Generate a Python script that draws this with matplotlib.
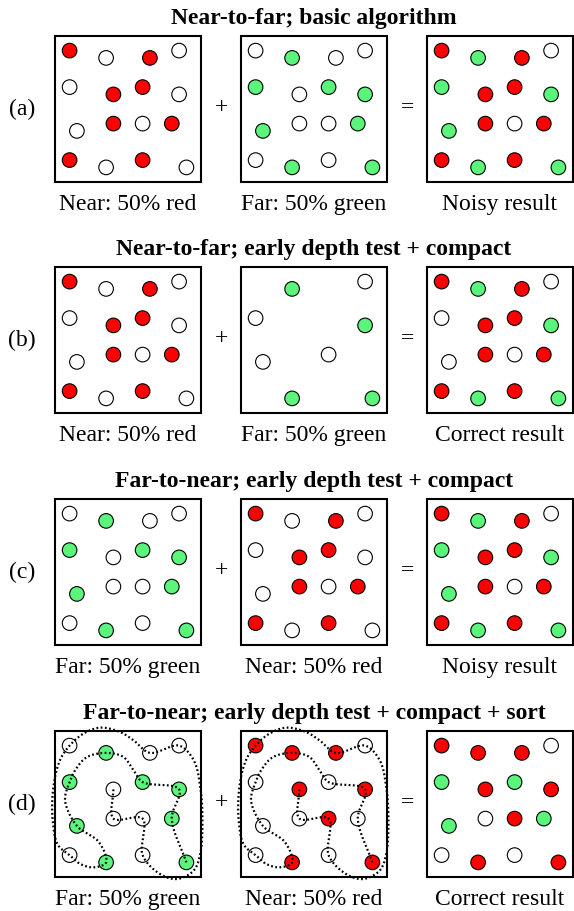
import numpy as np
import matplotlib
matplotlib.use('Agg')
import matplotlib.pyplot as plt
from matplotlib.patches import Rectangle, Circle

plt.rcParams['font.family'] = ['Liberation Serif', 'DejaVu Serif']

# sample positions inside a box (fraction of box size, y downwards), row by row
pos_x = [0.10, 0.35, 0.65, 0.85,  0.10, 0.40, 0.60, 0.85,  0.15, 0.40, 0.60, 0.80,  0.10, 0.35, 0.60, 0.90]
pos_y = [0.10, 0.15, 0.15, 0.10,  0.35, 0.40, 0.35, 0.40,  0.65, 0.60, 0.60, 0.60,  0.85, 0.90, 0.85, 0.90]

# R = red, G = green, W = white, '-' = no sample
near_basic  = list('RWRW' 'WRRW' 'WRWR' 'RWRW')
far_basic   = list('WGWW' 'GWGG' 'GWWG' 'WGWG')
noisy       = list('RGRW' 'GRRG' 'GRWR' 'RGRG')
far_compact = list('-G-W' 'W--G' 'W-W-' '-G-G')
correct_b   = list('RGRW' 'WRRG' 'WRWR' 'RGRG')
near_sorted = list('RRRW' 'WRWR' 'WWRW' 'WRWR')
correct_d   = list('RRRW' 'GRGR' 'GWRG' 'WRWR')

# traversal order of the sorted samples (ints = sample index, tuples = bends)
sort_path = [5, 9, 10, 14, (0.72, 0.98), (0.835, 1.014), (0.95, 0.956), (0.995, 0.84),
             (1.01, 0.61), (0.995, 0.384), (0.95, 0.20), 3, 2, (0.538, 0.064), (0.446, 0.007),
             (0.309, -0.023), (0.195, 0.018), 0, (0.034, 0.20), (-0.011, 0.384), (-0.016, 0.61),
             (0.02, 0.78), 12, (0.172, 0.91), (0.263, 0.934), 13, (0.30, 0.76), 8,
             (0.069, 0.476), 4, (0.137, 0.27), (0.217, 0.18), 1, (0.469, 0.178), (0.538, 0.27),
             6, 7, 11, 15]

titles = ['Near-to-far; basic algorithm',
          'Near-to-far; early depth test + compact',
          'Far-to-near; early depth test + compact',
          'Far-to-near; early depth test + compact + sort']
row_tags = ['(a)', '(b)', '(c)', '(d)']
panels = [[near_basic, far_basic, noisy],
          [near_basic, far_compact, correct_b],
          [far_basic, near_basic, noisy],
          [far_basic, near_sorted, correct_d]]
captions = [['Near: 50% red', 'Far: 50% green', 'Noisy result'],
            ['Near: 50% red', 'Far: 50% green', 'Correct result'],
            ['Far: 50% green', 'Near: 50% red', 'Noisy result'],
            ['Far: 50% green', 'Near: 50% red', 'Correct result']]
ops = ['+', '=']

colors = {'R': '#ff0000', 'G': '#5af57a', 'W': 'white'}

W, H = 574, 911
fig = plt.figure(figsize=(W / 100, H / 100), dpi=100)
ax = fig.add_axes([0, 0, 1, 1])
ax.set_xlim(0, W)
ax.set_ylim(H, 0)
ax.axis('off')

box_left = [55, 241, 427]
box_top = [36, 267, 499, 731]
S = 146
R = 7.3
fs = 17


def catmull(pts, n=24, alpha=0.5):
    # centripetal Catmull-Rom through all points
    P = np.vstack([2 * pts[0] - pts[1], pts, 2 * pts[-1] - pts[-2]])
    out = []
    for i in range(1, len(P) - 2):
        p0, p1, p2, p3 = P[i - 1], P[i], P[i + 1], P[i + 2]
        t0 = 0.0
        t1 = t0 + np.linalg.norm(p1 - p0) ** alpha
        t2 = t1 + np.linalg.norm(p2 - p1) ** alpha
        t3 = t2 + np.linalg.norm(p3 - p2) ** alpha
        for t in np.linspace(t1, t2, n, endpoint=False):
            a1 = (t1 - t) / (t1 - t0) * p0 + (t - t0) / (t1 - t0) * p1
            a2 = (t2 - t) / (t2 - t1) * p1 + (t - t1) / (t2 - t1) * p2
            a3 = (t3 - t) / (t3 - t2) * p2 + (t - t2) / (t3 - t2) * p3
            b1 = (t2 - t) / (t2 - t0) * a1 + (t - t0) / (t2 - t0) * a2
            b2 = (t3 - t) / (t3 - t1) * a2 + (t - t1) / (t3 - t1) * a3
            out.append((t2 - t) / (t2 - t1) * b1 + (t - t1) / (t2 - t1) * b2)
    out.append(P[-2])
    return np.array(out)


path_rel = np.array([(pos_x[p], pos_y[p]) if isinstance(p, int) else p for p in sort_path], dtype=float)
curve = catmull(path_rel)

for r in range(4):
    top = box_top[r]
    ax.text(box_left[1] + S / 2, top - 12, titles[r], ha='center', va='baseline',
            fontsize=fs, fontweight='bold')
    ax.text(22, top + 79, row_tags[r], ha='center', va='baseline', fontsize=fs)
    for k, op in enumerate(ops):
        xo = (box_left[k] + S + box_left[k + 1]) / 2
        ax.text(xo, top + 72, op, ha='center', va='center', fontsize=fs)
    for c in range(3):
        left = box_left[c]
        ax.add_patch(Rectangle((left, top), S, S, fill=False, ec='black', lw=1.5, zorder=2))
        for i, code in enumerate(panels[r][c]):
            if code == '-':
                continue
            ax.add_patch(Circle((left + pos_x[i] * S, top + pos_y[i] * S), R,
                                fc=colors[code], ec='black', lw=0.8, zorder=3))
        ax.text(left + S / 2, top + S + 28, captions[r][c], ha='center', va='baseline', fontsize=fs)
        if r == 3 and c < 2:
            ax.plot(left + curve[:, 0] * S, top + curve[:, 1] * S, color='black', lw=1.6,
                    linestyle=(0, (0.8, 1.1)), zorder=4)

fig.savefig('out.png', dpi=100)
